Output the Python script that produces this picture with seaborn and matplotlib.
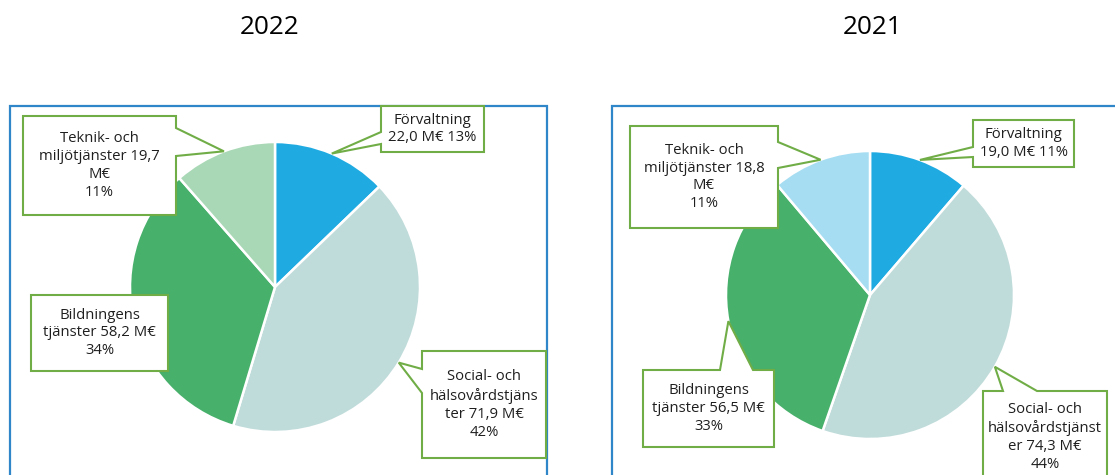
import numpy as np
import matplotlib
matplotlib.use("Agg")
import matplotlib.pyplot as plt
from matplotlib.patches import Polygon, Rectangle
import seaborn as sns

# Kostnader per sektor (M€), ordning medurs från klockan tolv
categories = ["Förvaltning", "Social- och hälsovårdstjänster",
              "Bildningens tjänster", "Teknik- och miljötjänster"]
years = ["2022", "2021"]
values_2022 = [22.0, 71.9, 58.2, 19.7]
values_2021 = [19.0, 74.3, 56.5, 18.8]
# Andelar (%) enligt bokslutet
shares_2022 = [13, 42, 34, 11]
shares_2021 = [11, 44, 33, 11]

# Etikettmallar med radbrytningar ({v} = belopp, {p} = andel)
label_templates_2022 = [
    "Förvaltning\n{v} M€ {p}%",
    "Social- och\nhälsovårdstjäns\nter {v} M€\n{p}%",
    "Bildningens\ntjänster {v} M€\n{p}%",
    "Teknik- och\nmiljötjänster {v}\nM€\n{p}%",
]
label_templates_2021 = [
    "Förvaltning\n{v} M€ {p}%",
    "Social- och\nhälsovårdstjänst\ner {v} M€\n{p}%",
    "Bildningens\ntjänster {v} M€\n{p}%",
    "Teknik- och\nmiljötjänster {v}\nM€\n{p}%",
]

colors_2022 = ["#1fabe2", "#c0dcda", "#47b06b", "#a9d8b6"]
colors_2021 = ["#1fabe2", "#c0dcda", "#47b06b", "#a6ddf2"]

W, H = 1115, 475

sns.set_theme(style="white")
plt.rcParams["font.family"] = ["Open Sans", "DejaVu Sans"]

fig = plt.figure(figsize=(W / 100, H / 100), dpi=100)
ax = fig.add_axes([0, 0, 1, 1])

GREEN = "#70ad47"
FRAME = "#2f86c8"
TEXT = "#1f1f1f"


def Y(y):
    return H - y


def fmt_value(v):
    return f"{v:.1f}".replace(".", ",")


def callout(x0, y0, x1, y1, side, a, b, tip):
    """Rektangel med spets mot tårtbiten (pixelkoordinater, y nedåt)."""
    pts = [(x0, y0)]
    if side == "top":
        pts += [(a, y0), tip, (b, y0)]
    pts += [(x1, y0)]
    if side == "right":
        pts += [(x1, a), tip, (x1, b)]
    pts += [(x1, y1), (x0, y1)]
    if side == "left":
        pts += [(x0, b), tip, (x0, a)]
    return [(px, Y(py)) for px, py in pts]


def draw_pie(values, shares, colors, templates, center, radius, boxes,
             title, title_x):
    cx, cy = center
    ax.pie(values, colors=sns.color_palette(colors), startangle=90,
           counterclock=False, center=(cx, Y(cy)), radius=radius,
           wedgeprops=dict(edgecolor="white", linewidth=1.8))
    fr = np.array(values) / sum(values)
    mids = (np.cumsum(fr) - fr / 2) * 2 * np.pi
    for i, (v, p, tpl, box) in enumerate(zip(values, shares, templates, boxes)):
        x0, y0, x1, y1, side, a, b, ty = box
        tip = (cx + radius * np.sin(mids[i]), cy - radius * np.cos(mids[i]))
        poly = Polygon(callout(x0, y0, x1, y1, side, a, b, tip), closed=True,
                       facecolor="white", edgecolor=GREEN, linewidth=1.5,
                       zorder=5, joinstyle="miter")
        ax.add_patch(poly)
        label = tpl.format(v=fmt_value(v), p=p)
        ax.text((x0 + x1) / 2, Y(ty if ty else (y0 + y1) / 2), label,
                ha="center", va="center", fontsize=10.7, color=TEXT,
                linespacing=1.27, zorder=6)
    ax.text(title_x, Y(28), title, ha="center", va="center",
            fontsize=18.8, color="black")


# Ramar runt diagrammen
ax.add_patch(Rectangle((10, Y(490)), 537, 490 - 106, fill=False,
                       edgecolor=FRAME, linewidth=1.6, zorder=1))
ax.add_patch(Rectangle((612, Y(490)), 530, 490 - 106, fill=False,
                       edgecolor=FRAME, linewidth=1.6, zorder=1))

boxes_2022 = [
    (381, 106, 484, 152, "left", 132, 144, None),
    (422, 351, 546, 458, "left", 369, 393, None),
    (31, 295, 168, 371, None, 0, 0, None),
    (23, 116, 176, 215, "right", 128, 156, None),
]
boxes_2021 = [
    (973, 120, 1074, 167, "left", 147, 157, None),
    (983, 391, 1107, 500, "top", 1003, 1037, 437),
    (643, 370, 774, 447, "top", 720, 753, None),
    (630, 126, 778, 228, "right", 142, 168, None),
]

draw_pie(values_2022, shares_2022, colors_2022, label_templates_2022,
         (275, 287), 145, boxes_2022, years[0], 270)
draw_pie(values_2021, shares_2021, colors_2021, label_templates_2021,
         (870, 295), 144, boxes_2021, years[1], 873)

ax.set_xlim(0, W)
ax.set_ylim(0, H)
ax.set_axis_off()

fig.savefig("out.png", dpi=100, facecolor="white")
